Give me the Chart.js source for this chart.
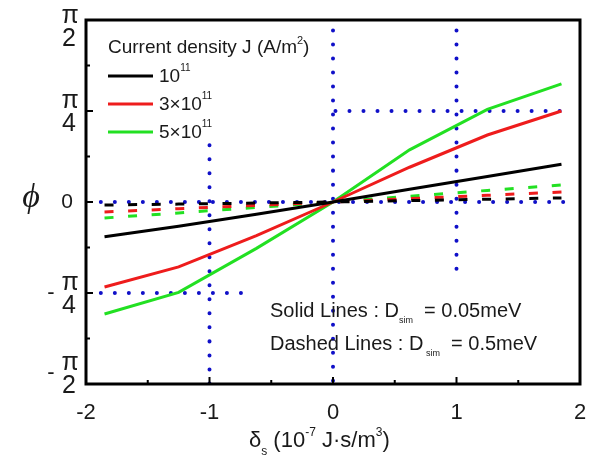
<!DOCTYPE html>
<html>
<head>
<meta charset="utf-8">
<script src="https://cdn.jsdelivr.net/npm/chart.js@4/dist/chart.umd.min.js"></script>
<style>
  html, body { margin: 0; padding: 0; background: #fff; }
  #wrap { width: 608px; height: 462px; }
</style>
</head>
<body>
<div id="wrap"><canvas id="phiChart"></canvas></div>
<script>
// ── DATA (phi in radians) ────────────────────────────────────────────────────
const deltaS = [-1.85, -1.25, -0.62, 0, 0.62, 1.25, 1.85];

// solid lines: D_sim = 0.05 meV
const solidJ1 = [-0.30, -0.21, -0.105, 0, 0.11, 0.22, 0.325];
const solidJ3 = [-0.734, -0.56, -0.29, 0, 0.30, 0.578, 0.785];
const solidJ5 = [-0.967, -0.78, -0.40, 0, 0.45, 0.80, 1.02];

// dashed lines: D_sim = 0.5 meV
const dashedJ1 = [-0.026, -0.018, -0.009, 0, 0.012, 0.024, 0.035];
const dashedJ3 = [-0.086, -0.058, -0.029, 0, 0.029, 0.058, 0.086];
const dashedJ5 = [-0.138, -0.094, -0.047, 0, 0.05, 0.10, 0.147];

const legendMantissa = ['10', '3\u00d710', '5\u00d710'];
const legendExponent = '11';
const seriesColors = ['#000000', '#ee1c1c', '#22e022'];

// blue dotted guide lines [x1, y1, x2, y2]
const guideLines = [
  [-1, 0.49, -1, -1.57],
  [0, 1.48, 0, -1.55],
  [1, 1.48, 1, -0.60],
  [-1.88, 0, 1.9, 0],
  [0.02, Math.PI / 4, 1.9, Math.PI / 4],
  [-1.88, -Math.PI / 4, -0.73, -Math.PI / 4]
];

const xTicks = [-2, -1.5, -1, -0.5, 0, 0.5, 1, 1.5, 2];
const yTickSteps = [-4, -3, -2, -1, 0, 1, 2, 3, 4]; // multiples of pi/8
const yLabels = [
  { k: 4, sign: '', num: '\u03c0', den: '2', shift: 6 },
  { k: 2, sign: '', num: '\u03c0', den: '4', shift: 0 },
  { k: 0, sign: '', num: '0', den: null, shift: 0 },
  { k: -2, sign: '-', num: '\u03c0', den: '4', shift: 0 },
  { k: -4, sign: '-', num: '\u03c0', den: '2', shift: -11 }
];

const FONT = "'Liberation Sans', Arial, sans-serif";
const TXT = '#1a1a1a';

// ── DATASETS ─────────────────────────────────────────────────────────────────
const toPts = arr => arr.map((v, i) => ({ x: deltaS[i], y: v }));

const datasets = [];
[solidJ1, solidJ3, solidJ5].forEach((arr, i) => datasets.push({
  data: toPts(arr), borderColor: seriesColors[i], borderWidth: 3,
  pointRadius: 0, tension: 0, order: 1
}));
[dashedJ1, dashedJ3, dashedJ5].forEach((arr, i) => datasets.push({
  data: toPts(arr), borderColor: seriesColors[i], borderWidth: 3,
  borderDash: [9, 14.6], pointRadius: 0, tension: 0, order: 2
}));
guideLines.forEach(g => datasets.push({
  data: [{ x: g[0], y: g[1] }, { x: g[2], y: g[3] }],
  borderColor: '#1010c8', borderWidth: 4, borderDash: [0.01, 14],
  borderCapStyle: 'round', pointRadius: 0, order: 3
}));

// ── TEXT HELPERS ─────────────────────────────────────────────────────────────
// parts: [text, size, dy, style]
function drawRuns(ctx, x, y, parts) {
  parts.forEach(([t, size, dy, style]) => {
    ctx.font = (style || '') + ' ' + size + 'px ' + FONT;
    ctx.fillText(t, x, y + dy);
    x += ctx.measureText(t).width;
  });
}

const decor = {
  id: 'decor',
  afterDatasetsDraw(chart) {
    const { ctx, chartArea: a, scales: { x, y } } = chart;
    ctx.save();
    ctx.strokeStyle = '#000';
    ctx.lineWidth = 3;
    ctx.strokeRect(a.left, a.top, a.right - a.left, a.bottom - a.top);

    // inward ticks
    ctx.lineWidth = 2;
    ctx.beginPath();
    xTicks.forEach(v => {
      const px = x.getPixelForValue(v);
      const len = Number.isInteger(v) ? 7 : 4;
      ctx.moveTo(px, a.bottom); ctx.lineTo(px, a.bottom - len);
    });
    yTickSteps.forEach(k => {
      const py = y.getPixelForValue(k * Math.PI / 8);
      const len = k % 2 === 0 ? 7 : 4;
      ctx.moveTo(a.left, py); ctx.lineTo(a.left + len, py);
    });
    ctx.stroke();
    ctx.restore();
  },
  afterDraw(chart) {
    const { ctx, scales: { y } } = chart;
    ctx.save();
    ctx.fillStyle = TXT;
    ctx.textBaseline = 'alphabetic';

    // y tick labels as stacked fractions
    ctx.textAlign = 'center';
    yLabels.forEach(l => {
      const py = y.getPixelForValue(l.k * Math.PI / 8) + l.shift;
      if (l.den === null) {
        ctx.font = '21px ' + FONT;
        ctx.textBaseline = 'middle';
        ctx.fillText(l.num, 67, py);
        return;
      }
      ctx.textBaseline = 'alphabetic';
      ctx.font = '25px ' + FONT;
      ctx.fillText(l.num, 70, py - 3);
      ctx.fillText(l.den, 69, py + 20);
      if (l.sign) {
        ctx.font = '22px ' + FONT;
        ctx.fillText(l.sign, 51, py + 6);
      }
    });

    // y axis title
    ctx.textAlign = 'center';
    ctx.textBaseline = 'middle';
    ctx.font = "italic 34px 'Liberation Serif', serif";
    ctx.fillText('\u03d5', 31, 198);

    ctx.textAlign = 'left';
    ctx.textBaseline = 'alphabetic';

    // x axis title
    drawRuns(ctx, 249, 447, [
      ['\u03b4', 22, 0], ['s', 12, 8], [' (10', 22, 0], ['-7', 12, -11],
      [' J\u00b7s/m', 22, 0], ['3', 12, -11], [')', 22, 0]
    ]);

    // legend
    drawRuns(ctx, 108, 53, [['Current density J (A/m', 19, 0], ['2', 11, -9], [')', 19, 0]]);
    const rows = [82, 110, 138];
    rows.forEach((by, i) => {
      ctx.strokeStyle = seriesColors[i];
      ctx.lineWidth = 3;
      ctx.beginPath();
      ctx.moveTo(108, by - 6); ctx.lineTo(153, by - 6);
      ctx.stroke();
      drawRuns(ctx, 159, by, [[legendMantissa[i], 19, 0], [legendExponent, 10, -11]]);
    });

    // annotation
    drawRuns(ctx, 270, 317, [['Solid Lines : D', 20, 0], ['sim', 9, 6], ['  = 0.05meV', 20, 0]]);
    drawRuns(ctx, 270, 350, [['Dashed Lines : D', 20, 0], [' sim', 9, 6], ['  = 0.5meV', 20, 0]]);
    ctx.restore();
  }
};

// ── CHART ────────────────────────────────────────────────────────────────────
new Chart(document.getElementById('phiChart'), {
  type: 'line',
  data: { datasets },
  options: {
    responsive: true, maintainAspectRatio: false, animation: false,
    layout: { padding: { top: 20, right: 28, left: 0, bottom: 0 } },
    plugins: { legend: { display: false }, tooltip: { enabled: false } },
    scales: {
      x: {
        type: 'linear', min: -2, max: 2,
        grid: { display: false }, border: { display: false },
        ticks: {
          stepSize: 0.5, autoSkip: false, maxRotation: 0, padding: 8,
          color: TXT, font: { size: 22, family: FONT },
          callback: v => Number.isInteger(v) ? String(v) : ''
        },
        afterFit: s => { s.height = 78; }
      },
      y: {
        type: 'linear', min: -Math.PI / 2, max: Math.PI / 2,
        grid: { display: false }, border: { display: false },
        ticks: { display: false },
        afterFit: s => { s.width = 86; }
      }
    }
  },
  plugins: [decor]
});
</script>
</body>
</html>
